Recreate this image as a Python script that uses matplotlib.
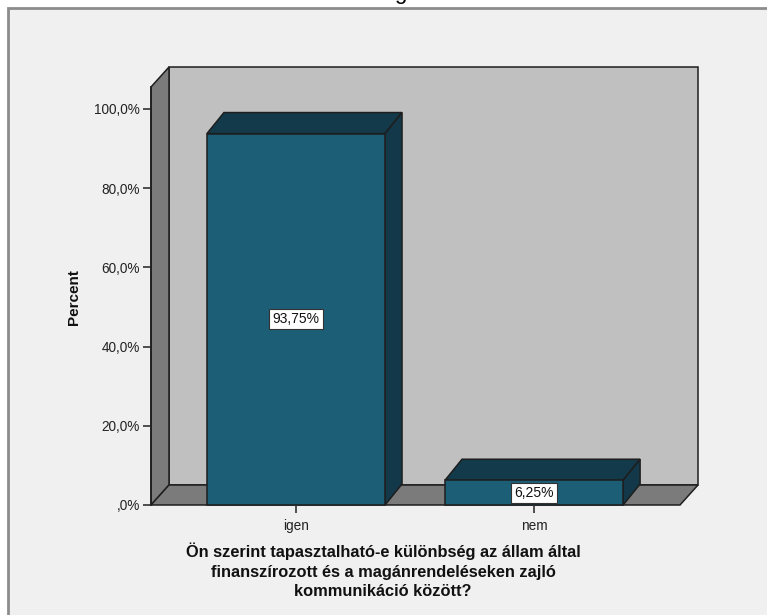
import matplotlib.pyplot as plt
import numpy as np
from matplotlib.patches import Polygon, Rectangle

categories = ["igen", "nem"]
percents = [93.75, 6.25]
bar_labels = ["93,75%", "6,25%"]
y_ticks = [0, 20, 40, 60, 80, 100]
y_tick_labels = [",0%", "20,0%", "40,0%", "60,0%", "80,0%", "100,0%"]
x_title = ("Ön szerint tapasztalható-e különbség az állam által\n"
           "finanszírozott és a magánrendeléseken zajló\n"
           "kommunikáció között?")

plt.rcParams['font.family'] = ['Liberation Sans', 'DejaVu Sans']

W, H = 767, 615
fig = plt.figure(figsize=(W / 100, H / 100), dpi=100)
fig.patch.set_facecolor("white")

# outer frame (spss chart area)
frame = Rectangle((8 / W, -0.05), 1.2, (H - 8) / H + 0.05, transform=fig.transFigure,
                  facecolor="#f0f0f0", edgecolor="#8c8c8c", linewidth=2, zorder=0)
fig.patches.append(frame)
fig.text(400 / W, 1.0 - 4 / H, "g", ha="center", va="bottom", fontsize=16, color="black")

left, right = 151 / W, 680 / W
bottom, top = (H - 505) / H, (H - 87) / H
ax = fig.add_axes([left, bottom, right - left, top - bottom])
ax.set_zorder(10)
ax.set_xlim(-0.609, 1.613)
ax.set_ylim(0, 105.5)
ax.patch.set_visible(False)
for s in ax.spines.values():
    s.set_visible(False)

fig.canvas.draw()
D = np.array([18, 20])  # depth offset in pixels
edge = "#1e1e1e"


def px(x, y):
    return ax.transData.transform((x, y))


def poly(pts, color, z):
    p = Polygon(np.array(pts), closed=True, facecolor=color, edgecolor=edge,
                linewidth=1.1, transform=None, zorder=z)
    fig.patches.append(p)


x0, x1 = ax.get_xlim()
y0, y1 = ax.get_ylim()
a, b, c = px(x0, y0), px(x1, y0), px(x0, y1)
tr = px(x1, y1)

# back wall, left wall, floor
poly([a + D, b + D, tr + D, c + D], "#c0c0c0", 1)
poly([a, c, c + D, a + D], "#7b7b7b", 2)
poly([a, b, b + D, a + D], "#7b7b7b", 2)

width = 0.748
Db = np.array([17, 21])
for i, v in enumerate(percents):
    bl, br = px(i - width / 2, 0), px(i + width / 2, 0)
    tl, trr = px(i - width / 2, v), px(i + width / 2, v)
    poly([tl, trr, trr + Db, tl + Db], "#123a4a", 4)
    poly([br, trr, trr + Db, br + Db], "#12384a", 4)
    poly([bl, br, trr, tl], "#1c5e76", 5)
    ax.text(i, v / 2, bar_labels[i], ha="center", va="center", fontsize=10,
            color="#111111", zorder=10,
            bbox=dict(boxstyle="square,pad=0.22", facecolor="white",
                      edgecolor="#333333", linewidth=0.8))

ax.set_yticks(y_ticks)
ax.set_yticklabels(y_tick_labels)
ax.set_xticks(range(len(categories)))
ax.set_xticklabels(categories)
ax.tick_params(axis="y", length=6, width=1.2, color="#333333", labelsize=9.8,
               labelcolor="#222222", pad=2)
ax.tick_params(axis="x", length=6, width=1.2, color="#333333", labelsize=9.8,
               labelcolor="#222222", pad=4)
ax.plot([x0, x0], [y0, y1], color=edge, lw=1.2, zorder=6, clip_on=False)

fig.text(74 / W, 1 - 297 / H, "Percent", rotation=90, ha="center", va="center",
         fontsize=11, fontweight="bold", color="#111111")
fig.text(383 / W, 1 - 571 / H, x_title, ha="center", va="center", fontsize=11.8,
         fontweight="bold", color="#111111", linespacing=1.38)

fig.savefig("out.png", dpi=100)
